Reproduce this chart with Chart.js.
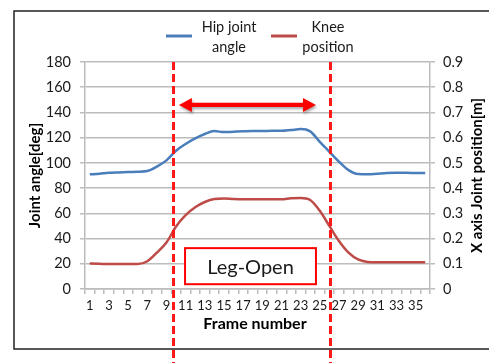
<!DOCTYPE html>
<html>
<head>
<meta charset="utf-8">
<script src="https://cdn.jsdelivr.net/npm/chart.js@4.4.1/dist/chart.umd.min.js"></script>
<style>
html,body{margin:0;padding:0;background:#fff;}
#wrap{width:489px;height:363px;position:relative;}
</style>
</head>
<body>
<div id="wrap"><canvas id="c" width="489" height="363"></canvas></div>
<script>
// ---- data ----
const frames = Array.from({length: 36}, (_, i) => String(i + 1));
const hipAngle = [90.9, 91.4, 92.1, 92.4, 92.7, 93.0, 93.5, 97.0, 102.0, 109.6, 115.0, 119.4,
  122.9, 125.2, 124.4, 124.7, 125.0, 125.2, 125.2, 125.4, 125.4, 126.0, 126.8, 125.0,
  116.7, 108.8, 100.9, 94.3, 91.1, 90.9, 91.4, 91.9, 92.1, 92.1, 92.0, 91.9];
const kneePosition = [0.101, 0.100, 0.099, 0.099, 0.099, 0.099, 0.110, 0.144, 0.184, 0.248, 0.293, 0.324,
  0.345, 0.357, 0.359, 0.357, 0.356, 0.356, 0.356, 0.356, 0.356, 0.360, 0.361, 0.353,
  0.310, 0.250, 0.190, 0.144, 0.117, 0.107, 0.106, 0.106, 0.106, 0.106, 0.106, 0.106];
const seriesNames = [["Hip joint", "angle"], ["Knee", "position"]];
const leftTitle = "Joint angle[deg]";
const rightTitle = "X axis Joint position[m]";
const xTitle = "Frame number";
const annotationText = "Leg-Open";
// phase boundaries, in frame numbers
const phaseStart = 9.64;
const phaseEnd = 26.1;
// arrow span (frames) and height (deg); text box span (frames) and (deg)
const arrowSpan = [10.3, 24.6];
const arrowLevel = 146;
const boxSpan = [10.94, 24.6];
const boxLevels = [32.4, 3.8];

const FONT = "Lato, 'Open Sans', sans-serif";
const BLUE = '#4a7ebb';
const RED = '#be4b48';
const GRID = '#bcbcbc';

const decor = {
  id: 'decor',
  beforeDraw(chart) {
    const ctx = chart.ctx;
    ctx.save();
    ctx.fillStyle = '#fff';
    ctx.fillRect(0, 0, chart.width, chart.height);
    ctx.strokeStyle = '#222';
    ctx.lineWidth = 1.5;
    ctx.beginPath();
    ctx.moveTo(chart.width + 2, 11);
    ctx.lineTo(14, 11);
    ctx.lineTo(14, 349);
    ctx.lineTo(chart.width + 2, 349);
    ctx.stroke();
    ctx.restore();
  },
  afterDraw(chart) {
    const ctx = chart.ctx;
    const x = chart.scales.x, y = chart.scales.y;
    const ca = chart.chartArea;
    const fx = f => x.getPixelForValue(f - 1);
    ctx.save();

    // legend
    ctx.font = '14.5px ' + FONT;
    ctx.fillStyle = '#1a1a1a';
    ctx.textAlign = 'center';
    ctx.textBaseline = 'middle';
    const legendItems = [
      {color: BLUE, x0: 166, tx: 229, lines: seriesNames[0]},
      {color: RED, x0: 271, tx: 328, lines: seriesNames[1]}
    ];
    legendItems.forEach(it => {
      ctx.strokeStyle = it.color;
      ctx.lineWidth = 3;
      ctx.beginPath();
      ctx.moveTo(it.x0, 36);
      ctx.lineTo(it.x0 + 26, 36);
      ctx.stroke();
      ctx.fillText(it.lines[0], it.tx, 27);
      ctx.fillText(it.lines[1], it.tx, 47);
    });

    // axis titles
    ctx.font = 'bold 15px ' + FONT;
    ctx.fillStyle = '#000';
    ctx.save();
    ctx.translate(35, (ca.top + ca.bottom) / 2);
    ctx.rotate(-Math.PI / 2);
    ctx.fillText(leftTitle, 0, 0);
    ctx.restore();
    ctx.save();
    ctx.translate(477, (ca.top + ca.bottom) / 2);
    ctx.rotate(-Math.PI / 2);
    ctx.fillText(rightTitle, 0, 0);
    ctx.restore();
    ctx.font = 'bold 16px ' + FONT;
    ctx.fillText(xTitle, 255, 324);

    // text box
    const bx0 = fx(boxSpan[0]), bx1 = fx(boxSpan[1]);
    const by0 = y.getPixelForValue(boxLevels[0]), by1 = y.getPixelForValue(boxLevels[1]);
    ctx.fillStyle = '#fff';
    ctx.fillRect(bx0, by0, bx1 - bx0, by1 - by0);
    ctx.strokeStyle = '#ff0000';
    ctx.lineWidth = 2;
    ctx.strokeRect(bx0, by0, bx1 - bx0, by1 - by0);
    ctx.fillStyle = '#1a1a1a';
    ctx.font = '20px ' + FONT;
    ctx.fillText(annotationText, (bx0 + bx1) / 2, (by0 + by1) / 2 + 1);

    // dashed phase lines
    ctx.strokeStyle = '#ff1a1a';
    ctx.lineWidth = 3;
    ctx.setLineDash([8, 4]);
    [phaseStart, phaseEnd].forEach(f => {
      const px = Math.round(fx(f)) + 0.5;
      ctx.beginPath();
      ctx.moveTo(px, ca.top);
      ctx.lineTo(px, chart.height);
      ctx.stroke();
    });
    ctx.setLineDash([]);

    // double arrow
    const ax0 = fx(arrowSpan[0]), ax1 = fx(arrowSpan[1]);
    const ay = y.getPixelForValue(arrowLevel);
    ctx.shadowColor = 'rgba(0,0,0,0.35)';
    ctx.shadowBlur = 3;
    ctx.shadowOffsetX = 1;
    ctx.shadowOffsetY = 2;
    ctx.fillStyle = '#ff0000';
    const hl = 13, hw = 7, sw = 2.2;
    ctx.beginPath();
    ctx.moveTo(ax0, ay);
    ctx.lineTo(ax0 + hl, ay - hw);
    ctx.lineTo(ax0 + hl, ay - sw);
    ctx.lineTo(ax1 - hl, ay - sw);
    ctx.lineTo(ax1 - hl, ay - hw);
    ctx.lineTo(ax1, ay);
    ctx.lineTo(ax1 - hl, ay + hw);
    ctx.lineTo(ax1 - hl, ay + sw);
    ctx.lineTo(ax0 + hl, ay + sw);
    ctx.lineTo(ax0 + hl, ay + hw);
    ctx.closePath();
    ctx.fill();
    ctx.restore();
  }
};

new Chart(document.getElementById('c'), {
  type: 'line',
  data: {
    labels: frames,
    datasets: [
      {label: 'Hip joint angle', data: hipAngle, borderColor: BLUE, backgroundColor: BLUE,
       borderWidth: 2.5, pointRadius: 0, cubicInterpolationMode: 'monotone', yAxisID: 'y'},
      {label: 'Knee position', data: kneePosition, borderColor: RED, backgroundColor: RED,
       borderWidth: 2.5, pointRadius: 0, cubicInterpolationMode: 'monotone', yAxisID: 'y1'}
    ]
  },
  options: {
    responsive: false,
    animation: false,
    devicePixelRatio: 1,
    layout: {padding: {top: 62, left: 0, right: 0, bottom: 0}},
    plugins: {legend: {display: false}, tooltip: {enabled: false}},
    scales: {
      x: {
        offset: true,
        grid: {offset: true, drawOnChartArea: false, drawTicks: true, tickLength: 5, color: GRID, lineWidth: 1.5},
        border: {display: true, color: GRID, width: 1.5},
        ticks: {
          autoSkip: false, maxRotation: 0, minRotation: 0, padding: 4,
          color: '#1a1a1a', font: {family: FONT, size: 13},
          callback: function (v, i) { return i % 2 === 0 ? this.getLabelForValue(v) : ''; }
        },
        afterFit: s => { s.height = 74; }
      },
      y: {
        position: 'left', min: 0, max: 180,
        ticks: {stepSize: 20, padding: 9, color: '#1a1a1a', font: {family: FONT, size: 14.5}},
        grid: {color: GRID, lineWidth: 1.5, tickLength: 5},
        border: {display: true, color: GRID, width: 1.5},
        afterFit: s => { s.width = 85; }
      },
      y1: {
        position: 'right', min: 0, max: 0.9,
        ticks: {stepSize: 0.1, padding: 8, color: '#1a1a1a', font: {family: FONT, size: 14.5},
          callback: v => String(+(+v).toFixed(1))},
        grid: {drawOnChartArea: false, color: GRID, lineWidth: 1.5, tickLength: 5},
        border: {display: true, color: GRID, width: 1.5},
        afterFit: s => { s.width = 59; }
      }
    }
  },
  plugins: [decor]
});
</script>
</body>
</html>
